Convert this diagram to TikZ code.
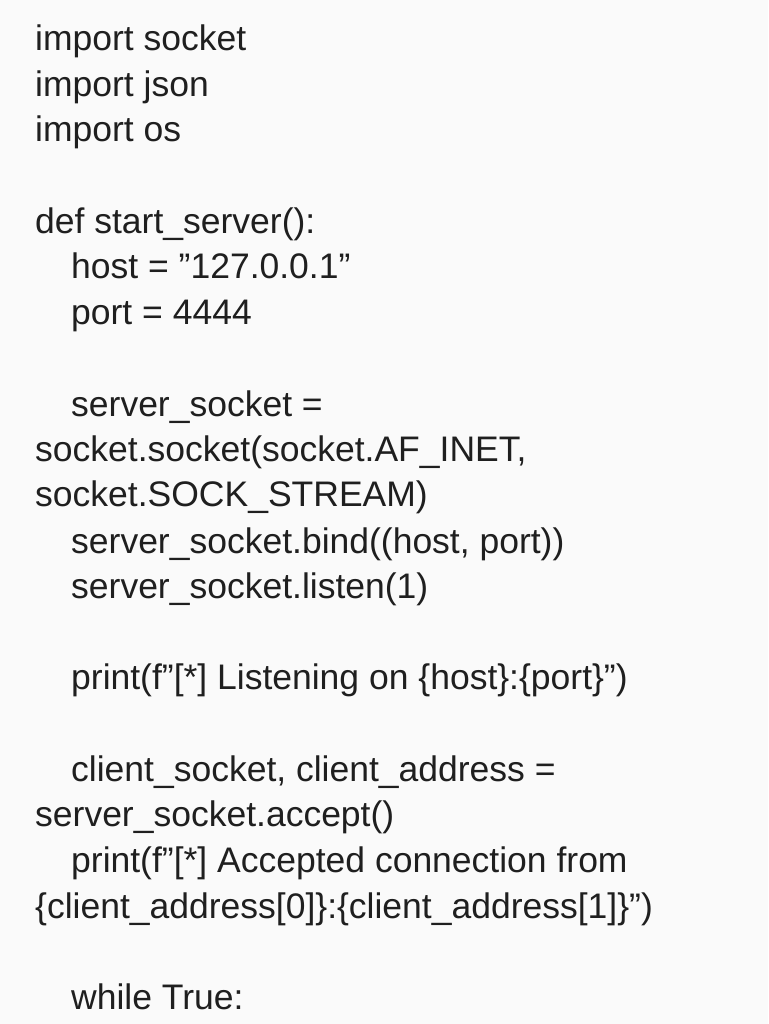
\documentclass[tikz,border=0pt]{standalone}
\usepackage{fontspec}
\setmainfont{Liberation Sans}
\newcommand{\dq}{\symbol{34}}
\begin{document}
\begin{tikzpicture}[x=1pt,y=-1pt,
 ln/.style={anchor=mid west,inner sep=0pt,font=\fontsize{35.5}{40}\selectfont,text=black!88}]
\fill[black!2] (0,0) rectangle (768,1024);
\useasboundingbox (0,0) rectangle (768,1024);
\node[ln] (l1) at (35,48) {import socket};
\node[ln] (l2) at (35,94) {import json};
\node[ln] (l3) at (35,139) {import os};
\node[ln] (l4) at (35,231) {def start\_server():};
\node[ln] (l5) at (71,276) {host = \dq127.0.0.1\dq};
\node[ln] (l6) at (71,322) {port = 4444};
\node[ln] (l7) at (71,414) {server\_socket =};
\node[ln] (l8) at (35,459) {socket.socket(socket.AF\_INET,};
\node[ln] (l9) at (35,504) {socket.SOCK\_STREAM)};
\node[ln] (l10) at (71,551) {server\_socket.bind((host, port))};
\node[ln] (l11) at (71,596) {server\_socket.listen(1)};
\node[ln] (l12) at (71,687) {print(f\dq[*] Listening on \{host\}:\{port\}\dq)};
\node[ln] (l13) at (71,779) {client\_socket, client\_address =};
\node[ln] (l14) at (35,824) {server\_socket.accept()};
\node[ln] (l15) at (71,870) {print(f\dq[*] Accepted connection from};
\node[ln] (l16) at (35,916) {\{client\_address[0]\}:\{client\_address[1]\}\dq)};
\node[ln] (l17) at (71,1007) {while True:};
\end{tikzpicture}
\end{document}
